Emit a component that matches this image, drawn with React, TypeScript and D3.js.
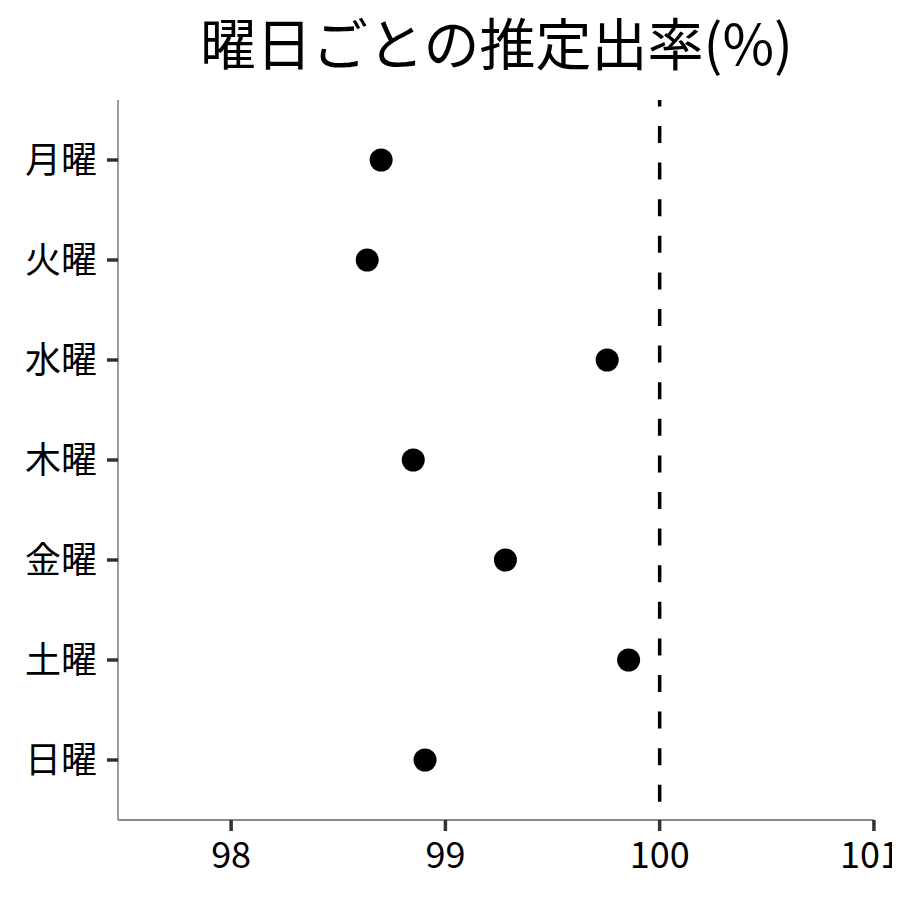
import React from 'react';
import * as d3 from 'd3';

const days = ['月曜', '火曜', '水曜', '木曜', '金曜', '土曜', '日曜'];
const rates = [98.70, 98.635, 99.755, 98.85, 99.28, 99.855, 98.905];
const xTicks = [98, 99, 100, 101];
const refValue = 100;
const title = '曜日ごとの推定出率(%)';

const W = 900;
const H = 900;
const margin = { top: 100, right: 25, bottom: 80, left: 118 };
const font = '"Noto Sans CJK JP", "Noto Sans", sans-serif';

const App: React.FC = () => {
  const x = d3.scaleLinear()
    .domain([97.472, 101.005])
    .range([margin.left, W - margin.right]);

  const y = d3.scalePoint<string>()
    .domain(days)
    .range([margin.top, H - margin.bottom])
    .padding(0.6);

  const y0 = margin.top;
  const y1 = H - margin.bottom;

  return (
    <svg width={W} height={H} style={{ display: 'block', margin: -8, fontFamily: font }}>
      <rect width={W} height={H} fill="#fff" />
      <text x={(margin.left + W - margin.right) / 2} y={65} textAnchor="middle"
        fontSize={56} fill="#000">{title}</text>

      {/* 参照線 */}
      <line x1={x(refValue)} x2={x(refValue)} y1={y0} y2={y1}
        stroke="#000" strokeWidth={3.5} strokeDasharray="17 19.6" strokeDashoffset={10.6} />

      {/* 軸 */}
      <line x1={margin.left} x2={margin.left} y1={y0} y2={y1} stroke="#666" strokeWidth={1.3} />
      <line x1={margin.left} x2={x(101)} y1={y1} y2={y1} stroke="#666" strokeWidth={1.3} />

      {days.map(d => (
        <g key={d}>
          <line x1={margin.left - 11} x2={margin.left} y1={y(d)} y2={y(d)} stroke="#333" strokeWidth={3.5} />
          <text x={margin.left - 21} y={y(d)} dy="0.35em" textAnchor="end" fontSize={36} fill="#000">{d}</text>
        </g>
      ))}

      {xTicks.map(t => (
        <g key={t}>
          <line x1={x(t)} x2={x(t)} y1={y1} y2={y1 + 11} stroke="#333" strokeWidth={3.5} />
          <text x={Math.min(x(t), W - 30)} y={y1 + 48} textAnchor="middle" fontSize={36} fill="#000">{t}</text>
        </g>
      ))}

      {days.map((d, i) => (
        <circle key={d} cx={x(rates[i])} cy={y(d)} r={11.5} fill="#000" />
      ))}
    </svg>
  );
};

export default App;
